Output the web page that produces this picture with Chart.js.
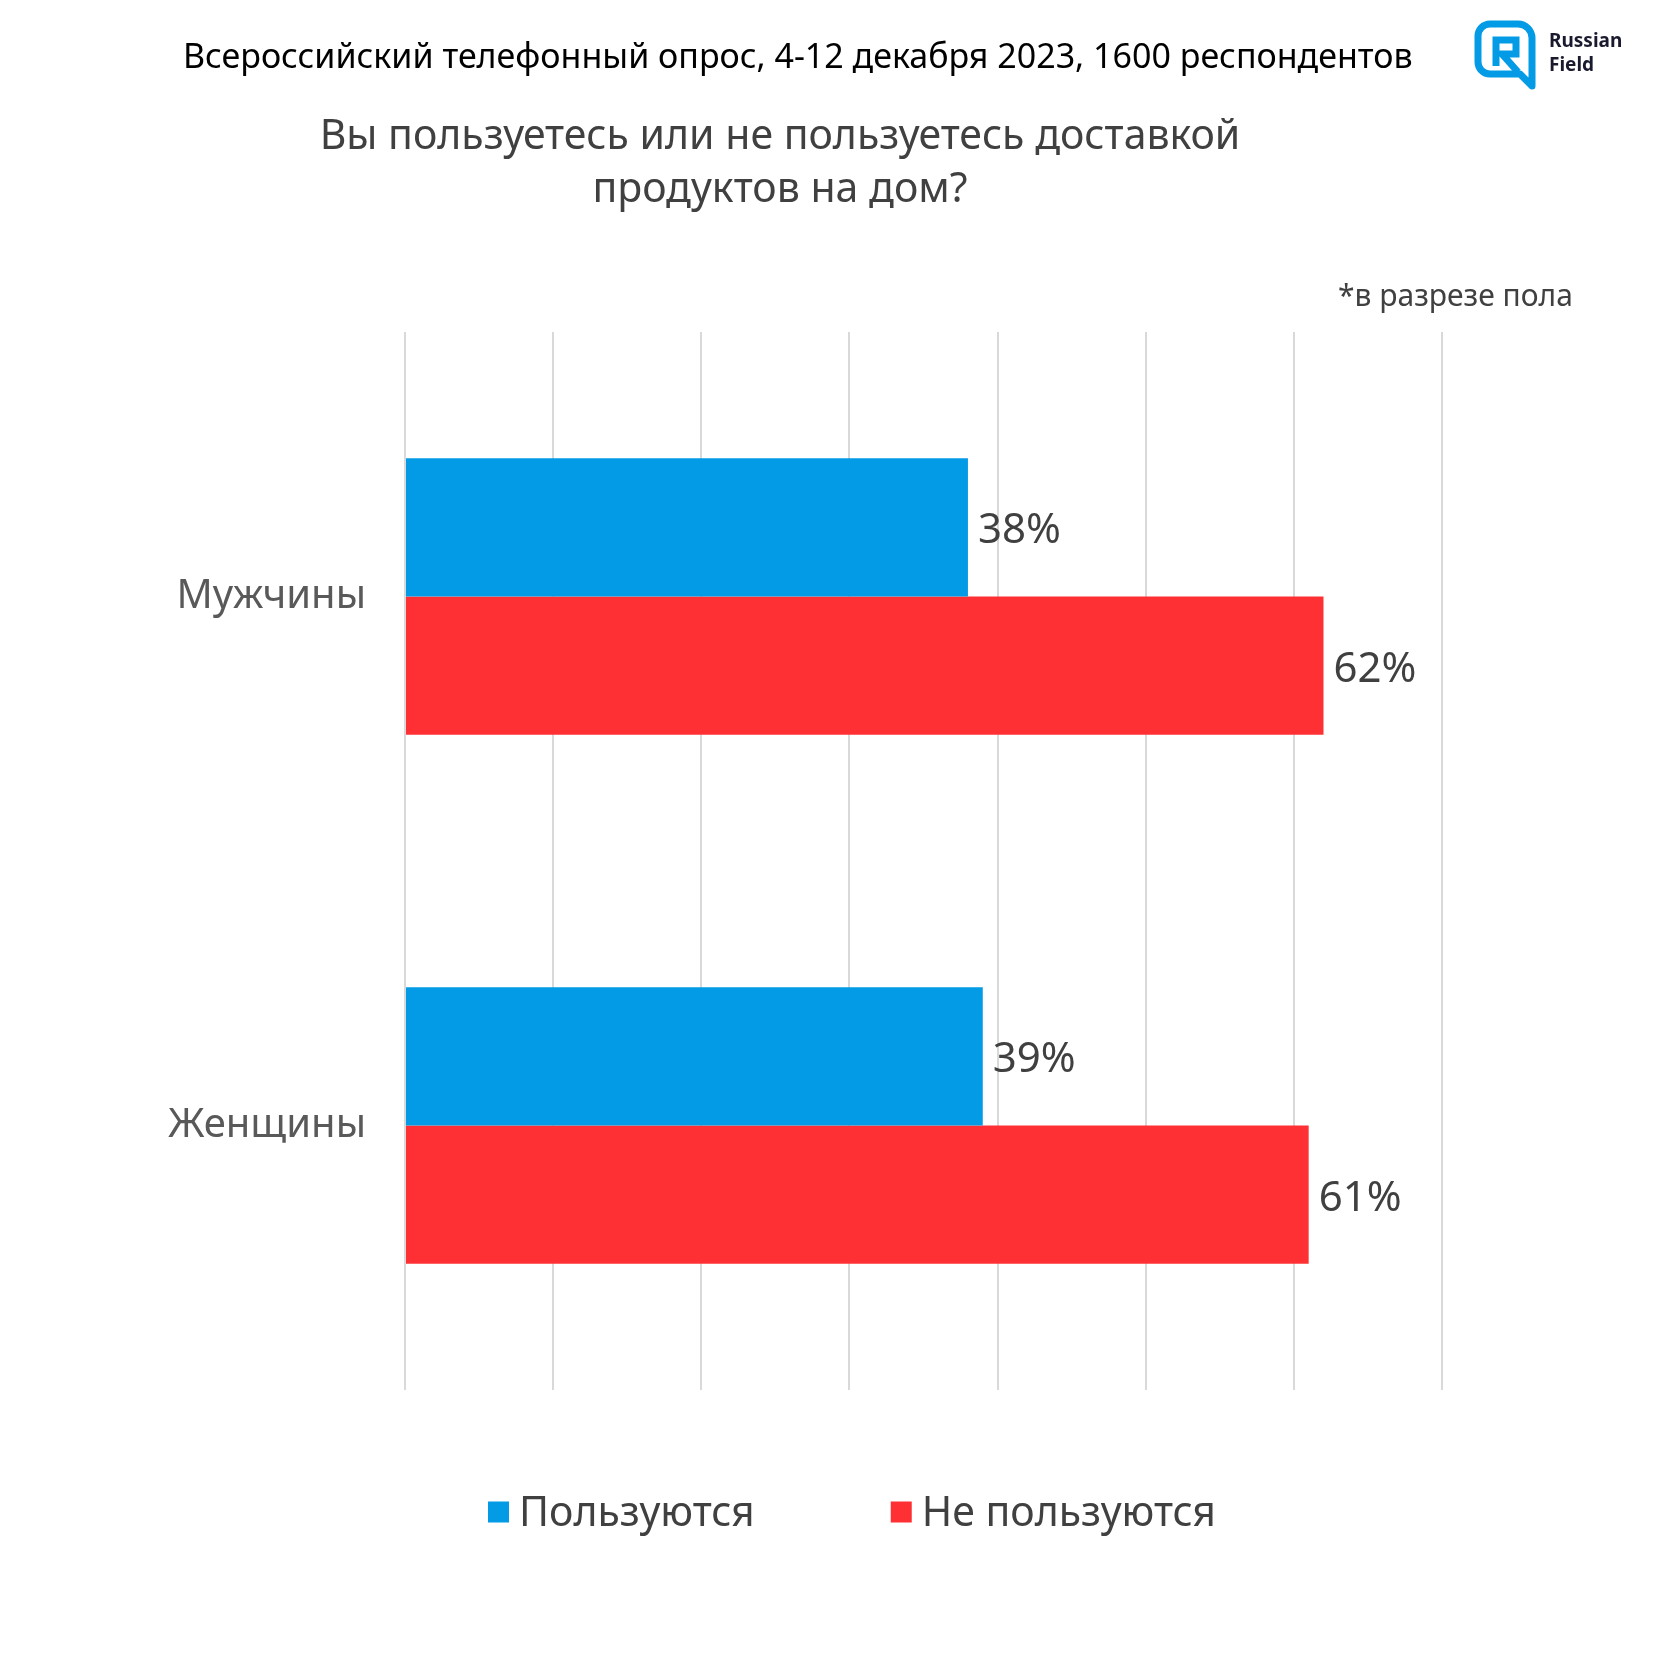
<!DOCTYPE html>
<html>
<head>
<meta charset="utf-8">
<script src="https://cdn.jsdelivr.net/npm/chart.js@4/dist/chart.umd.min.js"></script>
<style>
  html, body { margin: 0; padding: 0; background: #fff; }
  #wrap { position: relative; width: 1680px; height: 1680px; font-family: "Noto Sans", sans-serif; }
  #chartBox { position: absolute; left: 0; top: 0; width: 1680px; height: 1680px; }
  .txt { position: absolute; white-space: nowrap; }
  #header { left: 183px; top: 32px; font-size: 34px; color: #000; }
  #title { left: 0; width: 1560px; top: 107px; text-align: center; font-size: 41px; line-height: 53px; color: #404040; }
  #note { left: 1338px; top: 274px; font-size: 30px; color: #404040; }
  #logoText { left: 1549px; top: 28px; font-size: 19px; font-weight: bold; line-height: 24px; color: #1a1a2e; }
  #logo { position: absolute; left: 1474px; top: 20px; }
</style>
</head>
<body>
<div id="wrap">
  <div id="chartBox"><canvas id="surveyChart"></canvas></div>
  <div class="txt" id="header">Всероссийский телефонный опрос, 4-12 декабря 2023, 1600 респондентов</div>
  <div class="txt" id="title">Вы пользуетесь или не пользуетесь доставкой<br>продуктов на дом?</div>
  <div class="txt" id="note">*в разрезе пола</div>
  <svg id="logo" width="64" height="70" viewBox="0 0 64 70">
    <path d="M16 4 H44 A14 14 0 0 1 58 18 V66 L46 54 H16 A12 12 0 0 1 4 42 V16 A12 12 0 0 1 16 4 Z" fill="none" stroke="#039be5" stroke-width="7" stroke-linejoin="round"/>
    <path d="M22 46 V20 H42 V34 H28 L44 52" fill="none" stroke="#039be5" stroke-width="7" stroke-linejoin="miter"/>
  </svg>
  <div class="txt" id="logoText">Russian<br>Field</div>
</div>
<script>
"use strict";

// Data
const categories = ['Мужчины', 'Женщины'];
const seriesNames = ['Пользуются', 'Не пользуются'];
const usingValues = [38, 39];
const notUsingValues = [62, 61];
const axisTicks = [0, 10, 20, 30, 40, 50, 60, 70];

const seriesColors = ['#039be5', '#ff3033'];

// Percent labels at the end of each bar
const valueLabels = {
    id: 'valueLabels',
    afterDatasetsDraw(chart) {
        const ctx = chart.ctx;
        ctx.save();
        ctx.font = '42px "Noto Sans"';
        ctx.fillStyle = '#404040';
        ctx.textAlign = 'left';
        ctx.textBaseline = 'middle';
        chart.data.datasets.forEach((ds, i) => {
            chart.getDatasetMeta(i).data.forEach((bar, j) => {
                ctx.fillText(ds.data[j] + '%', bar.x + 10, bar.y + 4);
            });
        });
        ctx.restore();
    }
};

// Legend below the plot, square markers
const bottomLegend = {
    id: 'bottomLegend',
    afterDraw(chart) {
        const ctx = chart.ctx;
        const box = 21, gap = 10, spacing = 136;
        const y = 1512;
        ctx.save();
        ctx.font = '41px "Noto Sans"';
        ctx.textBaseline = 'middle';
        const items = chart.data.datasets.map(ds => ({
            text: ds.label, color: ds.backgroundColor,
            w: box + gap + ctx.measureText(ds.label).width
        }));
        const total = items.reduce((a, it) => a + it.w, 0) + spacing * (items.length - 1);
        let x = chart.width / 2 + 12 - total / 2;
        items.forEach(it => {
            ctx.fillStyle = it.color;
            ctx.fillRect(x, y - box / 2, box, box);
            ctx.fillStyle = '#404040';
            ctx.fillText(it.text, x + box + gap, y + 2);
            x += it.w + spacing;
        });
        ctx.restore();
    }
};

const chartEl = document.getElementById('surveyChart');
new Chart(chartEl, {
    type: 'bar',
    data: {
        labels: categories,
        datasets: [
            { label: seriesNames[0], data: usingValues, backgroundColor: seriesColors[0] },
            { label: seriesNames[1], data: notUsingValues, backgroundColor: seriesColors[1] }
        ]
    },
    options: {
        indexAxis: 'y',
        responsive: true,
        maintainAspectRatio: false,
        animation: false,
        layout: { padding: { left: 0, right: 238, top: 332, bottom: 290 } },
        datasets: { bar: { barPercentage: 1, categoryPercentage: 0.523 } },
        plugins: {
            legend: { display: false },
            tooltip: { enabled: false }
        },
        scales: {
            x: {
                min: axisTicks[0],
                max: axisTicks[axisTicks.length - 1],
                afterBuildTicks: function(scale) {
                    scale.ticks = axisTicks.map(v => ({ value: v }));
                },
                ticks: { display: false },
                grid: { color: '#d9d9d9', lineWidth: 2, drawTicks: false },
                border: { display: false },
                afterFit: function(scale) { scale.height = 0; }
            },
            y: {
                ticks: {
                    color: '#595959',
                    font: { family: '"Noto Sans"', size: 40 },
                    padding: 39
                },
                grid: { display: false, drawTicks: false },
                border: { display: false },
                afterFit: function(scale) { scale.width = 405; }
            }
        }
    },
    plugins: [valueLabels, bottomLegend]
});
</script>
</body>
</html>
